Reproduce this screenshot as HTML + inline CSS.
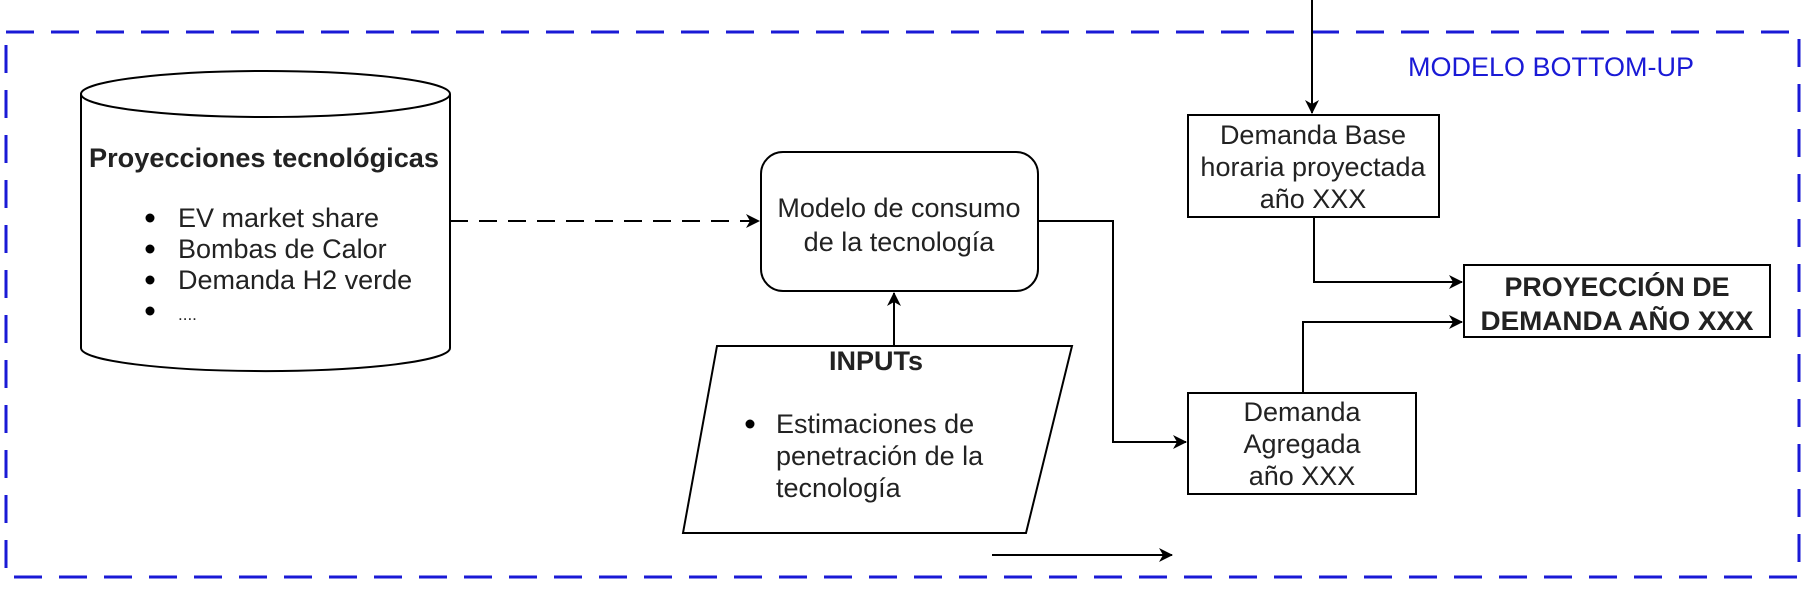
<!DOCTYPE html>
<html><head><meta charset="utf-8"><style>
html,body{margin:0;padding:0;background:#fff;}
svg{display:block;}
text{font-family:"Liberation Sans",Arial,sans-serif;fill:#222;}
</style></head><body>
<svg width="1808" height="600" viewBox="0 0 1808 600" xmlns="http://www.w3.org/2000/svg">
<defs>
<marker id="a" markerWidth="14" markerHeight="14" refX="13" refY="7" orient="auto" markerUnits="userSpaceOnUse">
<path d="M0,0 L14,7 L0,14 L4,7 Z" fill="#000"/>
</marker>
</defs>
<rect x="6" y="32" width="1793" height="545" fill="none" stroke="#1a1ad6" stroke-width="3" stroke-dasharray="28,17"/>
<text x="1551" y="76" font-size="27" text-anchor="middle" style="fill:#1a1ad6">MODELO BOTTOM-UP</text>

<!-- cylinder -->
<path d="M81,94 L81,348 A184,23 0 0 0 450,348 L450,94" fill="#fff" stroke="#000" stroke-width="2"/>
<ellipse cx="265.5" cy="94" rx="184.5" ry="23" fill="#fff" stroke="#000" stroke-width="2"/>
<text x="264" y="167" font-size="27" font-weight="bold" text-anchor="middle" textLength="350" lengthAdjust="spacingAndGlyphs">Proyecciones tecnológicas</text>
<g font-size="27">
<circle cx="150" cy="218" r="4.5"/><text x="178" y="227">EV market share</text>
<circle cx="150" cy="249" r="4.5"/><text x="178" y="258">Bombas de Calor</text>
<circle cx="150" cy="280" r="4.5"/><text x="178" y="289">Demanda H2 verde</text>
<circle cx="150" cy="311" r="4.5"/><text x="178" y="320" font-size="17">....</text>
</g>
<line x1="450" y1="221" x2="759" y2="221" stroke="#000" stroke-width="2" stroke-dasharray="18,11" marker-end="url(#a)"/>

<rect x="761" y="152" width="277" height="139" rx="22" fill="#fff" stroke="#000" stroke-width="2"/>
<text x="899" y="217" font-size="27" text-anchor="middle">Modelo de consumo</text>
<text x="899" y="251" font-size="27" text-anchor="middle">de la tecnología</text>

<polyline points="1038,221 1113,221 1113,442 1186,442" fill="none" stroke="#000" stroke-width="2" marker-end="url(#a)"/>

<polygon points="717,346 1072,346 1026,533 683,533" fill="#fff" stroke="#000" stroke-width="2"/>
<line x1="894" y1="346" x2="894" y2="293" stroke="#000" stroke-width="2" marker-end="url(#a)"/>
<text x="876" y="370" font-size="27" font-weight="bold" text-anchor="middle">INPUTs</text>
<circle cx="750" cy="424" r="4.5"/>
<g font-size="27"><text x="776" y="433">Estimaciones de</text><text x="776" y="465">penetración de la</text><text x="776" y="497">tecnología</text></g>

<line x1="992" y1="555" x2="1172" y2="555" stroke="#000" stroke-width="2" marker-end="url(#a)"/>

<line x1="1312" y1="0" x2="1312" y2="113" stroke="#000" stroke-width="2" marker-end="url(#a)"/>
<rect x="1188" y="115" width="251" height="102" fill="#fff" stroke="#000" stroke-width="2"/>
<g font-size="27" text-anchor="middle"><text x="1313" y="144">Demanda Base</text><text x="1313" y="176">horaria proyectada</text><text x="1313" y="208">año XXX</text></g>

<rect x="1188" y="393" width="228" height="101" fill="#fff" stroke="#000" stroke-width="2"/>
<g font-size="27" text-anchor="middle"><text x="1302" y="421">Demanda</text><text x="1302" y="453">Agregada</text><text x="1302" y="485">año XXX</text></g>

<polyline points="1314,217 1314,282 1462,282" fill="none" stroke="#000" stroke-width="2" marker-end="url(#a)"/>
<polyline points="1303,393 1303,322 1462,322" fill="none" stroke="#000" stroke-width="2" marker-end="url(#a)"/>

<rect x="1464" y="265" width="306" height="72" fill="#fff" stroke="#000" stroke-width="2"/>
<g font-size="27" font-weight="bold" text-anchor="middle"><text x="1617" y="296" textLength="225" lengthAdjust="spacingAndGlyphs">PROYECCIÓN DE</text><text x="1617" y="330" textLength="273" lengthAdjust="spacingAndGlyphs">DEMANDA AÑO XXX</text></g>
</svg>
</body></html>
